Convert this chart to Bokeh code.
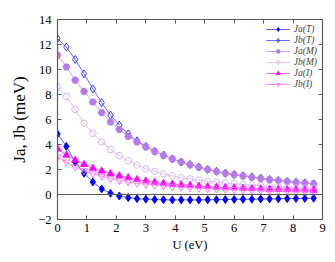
from bokeh.plotting import figure
from bokeh.models import Range1d, LinearAxis, FixedTicker, Span, Legend, LegendItem
from bokeh.embed import file_html
from bokeh.resources import INLINE

U = [0.0, 0.3, 0.6, 0.9, 1.2, 1.5, 1.8, 2.1, 2.4, 2.7, 3.0, 3.3, 3.6, 3.9, 4.2,
     4.5, 4.8, 5.1, 5.4, 5.7, 6.0, 6.3, 6.6, 6.9, 7.2, 7.5, 7.8, 8.1, 8.4, 8.7]

Ja_T = [4.85, 3.85, 2.6, 1.7, 1.0, 0.45, 0.1, -0.12, -0.25, -0.33, -0.37, -0.4, -0.42, -0.43, -0.43,
        -0.43, -0.43, -0.42, -0.41, -0.4, -0.39, -0.38, -0.37, -0.36, -0.35, -0.34, -0.33, -0.32, -0.31, -0.3]
Jb_T = [12.48, 11.8, 10.8, 9.65, 8.45, 7.35, 6.35, 5.55, 4.85, 4.3, 3.85, 3.45, 3.15, 2.85, 2.6,
        2.4, 2.2, 2.0, 1.85, 1.7, 1.6, 1.5, 1.4, 1.3, 1.2, 1.12, 1.05, 0.98, 0.92, 0.86]
Ja_M = [11.15, 10.2, 9.15, 8.25, 7.4, 6.55, 5.8, 5.2, 4.65, 4.2, 3.8, 3.45, 3.12, 2.84, 2.6,
        2.38, 2.18, 2.0, 1.84, 1.7, 1.58, 1.48, 1.38, 1.28, 1.19, 1.11, 1.04, 0.97, 0.91, 0.85]
Jb_M = [8.6, 7.85, 6.8, 5.7, 4.9, 4.2, 3.6, 3.1, 2.7, 2.35, 2.05, 1.85, 1.65, 1.5, 1.35,
        1.25, 1.15, 1.05, 1.0, 0.92, 0.86, 0.8, 0.75, 0.7, 0.66, 0.62, 0.58, 0.55, 0.52, 0.5]
Ja_I = [3.65, 3.15, 2.75, 2.4, 2.1, 1.88, 1.68, 1.5, 1.35, 1.2, 1.08, 0.98, 0.9, 0.83, 0.77,
        0.72, 0.67, 0.63, 0.59, 0.56, 0.53, 0.5, 0.47, 0.45, 0.43, 0.41, 0.39, 0.37, 0.36, 0.34]
Jb_I = [3.0, 2.6, 2.2, 1.9, 1.65, 1.45, 1.28, 1.12, 1.0, 0.9, 0.82, 0.75, 0.68, 0.63, 0.58,
        0.54, 0.5, 0.47, 0.44, 0.41, 0.39, 0.37, 0.35, 0.33, 0.31, 0.3, 0.28, 0.27, 0.26, 0.25]

labels = ["Ja(T)", "Jb(T)", "Ja(M)", "Jb(M)", "Ja(I)", "Jb(I)"]
x_ticks = [0, 1, 2, 3, 4, 5, 6, 7, 8, 9]
y_ticks = [-2, 0, 2, 4, 6, 8, 10, 12, 14]

FONT = "Liberation Serif"
AX = "#5a5a5a"

p = figure(frame_width=265, frame_height=200, output_backend="svg", toolbar_location=None,
           x_range=Range1d(0, 9), y_range=Range1d(-2, 14),
           min_border_left=57, min_border_right=5, min_border_top=19, min_border_bottom=36,
           background_fill_color="white", border_fill_color="white")
p.outline_line_color = None
p.grid.visible = False

p.xaxis.ticker = FixedTicker(ticks=x_ticks)
p.yaxis.ticker = FixedTicker(ticks=y_ticks)
p.xaxis.axis_label = "U (eV)"
p.yaxis.axis_label = "Ja, Jb (meV)"

for ax in [p.xaxis[0], p.yaxis[0]]:
    ax.axis_line_color = AX
    ax.axis_line_width = 1.2
    ax.major_tick_line_color = AX
    ax.major_tick_in = 4
    ax.major_tick_out = 0
    ax.minor_tick_line_color = None
    ax.major_label_text_font = FONT
    ax.major_label_text_font_size = "12.5px"
    ax.major_label_text_color = "black"
    ax.axis_label_text_font = FONT
    ax.axis_label_text_font_style = "normal"
    ax.axis_label_text_color = "black"
p.xaxis.major_label_standoff = 4
p.yaxis.major_label_standoff = 6
p.xaxis.axis_label_text_font_size = "12.5px"
p.xaxis.axis_label_standoff = 3
p.yaxis.axis_label_text_font_size = "17px"
p.yaxis.axis_label_standoff = 6

for loc, tk in [("above", x_ticks), ("right", y_ticks)]:
    a = LinearAxis(ticker=FixedTicker(ticks=tk), axis_line_color=AX, axis_line_width=1.2,
                   major_tick_line_color=AX, major_tick_in=4, major_tick_out=0,
                   minor_tick_line_color=None, major_label_text_color=None,
                   major_label_text_font_size="1px", major_label_standoff=0)
    p.add_layout(a, loc)

p.add_layout(Span(location=0, dimension="width", line_color=AX, line_width=1))

series = [
    (Ja_T, "diamond", "#0000ff", "#0000ff", "#4a4aff", 8),
    (Jb_T, "diamond", "#2a2aff", None, "#5a5aff", 8),
    (Ja_M, "hex", "#b57bea", "#b57bea", "#c79af0", 7),
    (Jb_M, "hex", "#d7b0f4", None, "#dcbcf6", 7),
    (Ja_I, "triangle", "#ff00ff", "#ff00ff", "#ff55ff", 7),
    (Jb_I, "inverted_triangle", "#ff66ff", None, "#ff88ff", 7),
]

items = []
for (ys, marker, col, fill, lcol, sz), lab in zip(series, labels):
    r1 = p.line(U, ys, line_color=lcol, line_width=0.9)
    r2 = p.scatter(U, ys, marker=marker, size=sz, line_color=col, line_width=0.9,
                   fill_color=fill if fill else "white", fill_alpha=1.0 if fill else 0.0)
    items.append(LegendItem(label=lab, renderers=[r1, r2]))

leg = Legend(items=items, location="top_right")
leg.border_line_color = None
leg.background_fill_alpha = 0
leg.label_text_font = FONT
leg.label_text_font_style = "italic"
leg.label_text_font_size = "9.5px"
leg.glyph_width = 24
leg.glyph_height = 10
leg.label_height = 10
leg.spacing = 1
leg.padding = 2
leg.margin = 5
leg.label_standoff = 4
p.add_layout(leg)

open("out.html", "w").write(file_html(p, INLINE))
